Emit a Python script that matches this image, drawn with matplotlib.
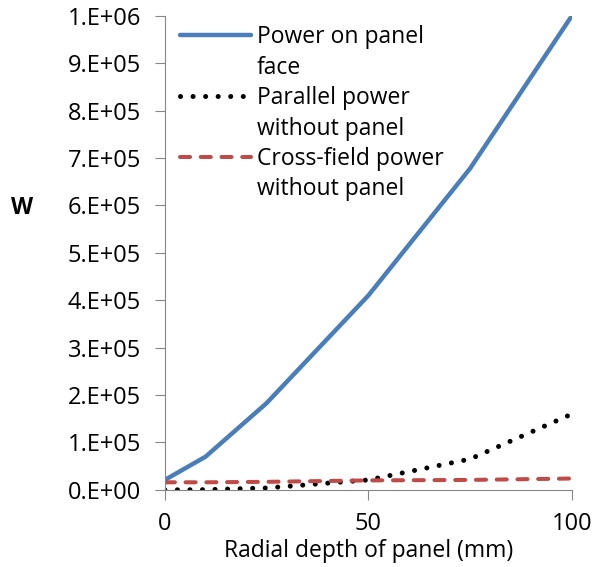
"""
Panel power vs radial depth
"""

import matplotlib.pyplot as plt
import matplotlib.ticker as ticker
from matplotlib.lines import Line2D

plt.rcParams['font.family'] = ['Open Sans', 'DejaVu Sans']

depth = [0, 10, 25, 50, 75, 100]
panel_face = [21000, 70000, 183000, 410000, 678000, 1000000]
parallel = [0, 500, 4000, 21000, 65000, 160000]
cross_field = [16000, 16000, 17000, 20000, 21000, 24000]

# legend labels, wrapped like the original (handle sits on the first line)
labels = [["Power on panel", "face"],
          ["Parallel power", "without panel"],
          ["Cross-field power", "without panel"]]

FS = 16.5

fig = plt.figure(figsize=(5.95, 5.67), dpi=100)
ax = fig.add_axes([0.277, 0.136, 0.684, 0.836])

l1, = ax.plot(depth, panel_face, color='#4a7ebb', lw=3.2, solid_capstyle='round')
l2, = ax.plot(depth, parallel, color='black', lw=3.6, linestyle=(0, (0.01, 2.5)),
              dash_capstyle='round')
l3, = ax.plot(depth, cross_field, color='#be4b48', lw=2.9, linestyle=(0, (2.5, 2.65)),
              dash_capstyle='round')

ax.set_xlim(0, 100)
ax.set_ylim(0, 1000000)
ax.set_xticks([0, 50, 100])
ax.set_yticks([i * 100000 for i in range(11)])


def sci(v, pos):
    if v == 0:
        return "0.E+00"
    e = len(str(int(round(v)))) - 1
    return "%d.E+%02d" % (round(v / 10 ** e), e)


ax.yaxis.set_major_formatter(ticker.FuncFormatter(sci))

for s in ['top', 'right']:
    ax.spines[s].set_visible(False)
for s in ['left', 'bottom']:
    ax.spines[s].set_color('#868686')
ax.tick_params(direction='out', length=7, color='#868686', labelsize=17)
ax.tick_params(axis='y', pad=10)
ax.tick_params(axis='x', pad=9)

ax.set_xlabel("Radial depth of panel (mm)", fontsize=FS, labelpad=2)
ax.set_ylabel("W", fontsize=FS, fontweight='bold', rotation=0, va='center', ha='center')
ax.yaxis.set_label_coords(-0.35, 0.595)

blank = Line2D([], [], color='none')
handles, texts = [], []
for h, lab in zip([l1, l2, l3], labels):
    handles += [h, blank]
    texts += lab
ax.legend(handles, texts, loc='upper left', bbox_to_anchor=(0.037, 0.98), frameon=False,
          fontsize=FS, handlelength=3.1, handletextpad=0.25, labelspacing=0.28,
          borderaxespad=0, borderpad=0)

fig.savefig('out.png', dpi=100)
